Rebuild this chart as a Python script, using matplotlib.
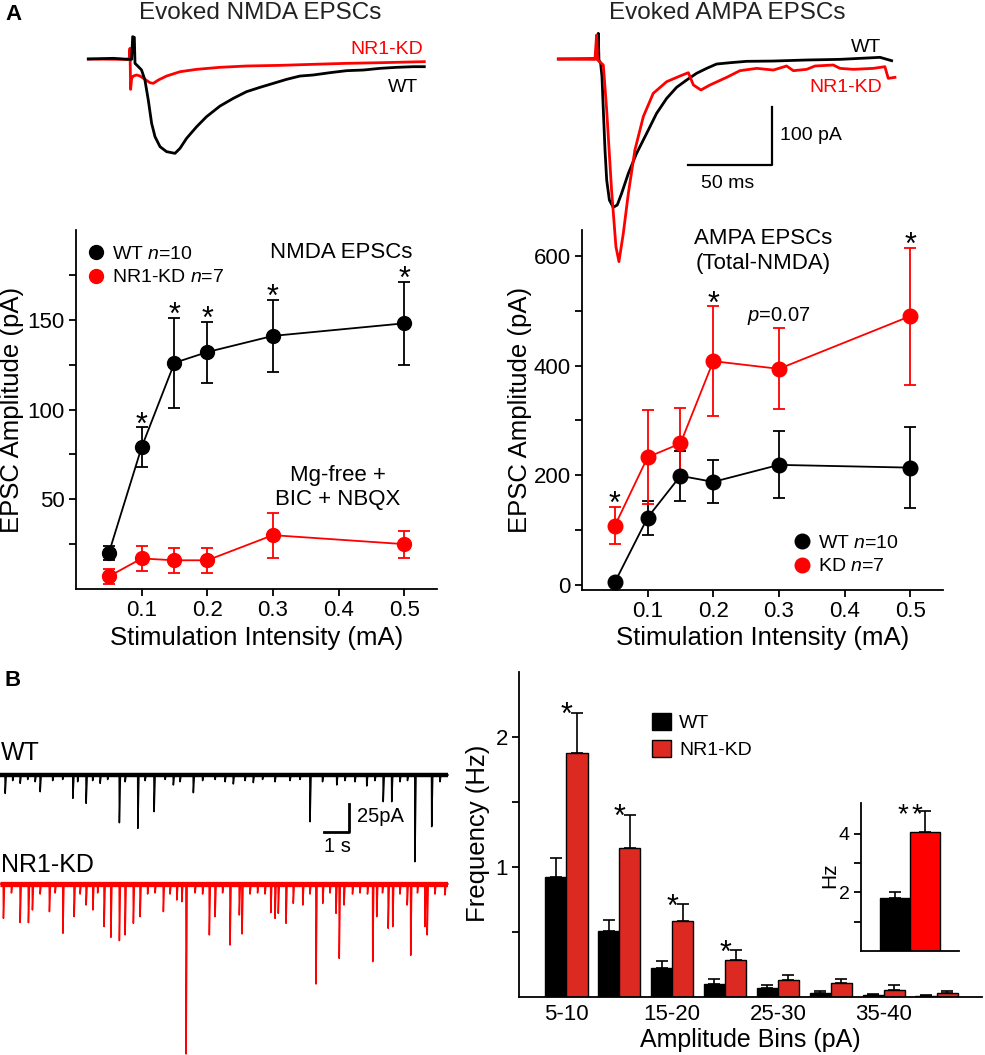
import matplotlib
matplotlib.use('Agg')
import matplotlib.pyplot as plt
from matplotlib.lines import Line2D
from matplotlib.patches import Patch
import numpy as np

plt.rcParams['font.family'] = ['Liberation Sans', 'DejaVu Sans']
plt.rcParams['mathtext.fontset'] = 'custom'
plt.rcParams['mathtext.it'] = 'Liberation Sans:italic'
plt.rcParams['mathtext.rm'] = 'Liberation Sans'

W, H = 985, 1055
RED = '#ff0000'
BARRED = '#dc2a22'

# ---------------- data ----------------
stim = [0.05, 0.1, 0.15, 0.2, 0.3, 0.5]
nmda_wt = [20, 79, 126, 132, 141, 148]
nmda_wt_err = [4, 11, 25, 17, 20, 23]
nmda_kd = [7, 17, 16, 16, 30, 25]
nmda_kd_err = [4, 7, 7, 7, 12.5, 7.5]
nmda_sig = [False, True, True, True, True, True]

ampa_wt = [5, 123, 199, 188, 219, 214]
ampa_wt_err = [0, 31, 45, 39, 61, 74]
ampa_kd = [108, 233, 258, 408, 394, 490]
ampa_kd_err = [34, 86, 65, 100, 74, 125]
ampa_sig = [True, False, False, True, False, True]

bins = ['5-10', '10-15', '15-20', '20-25', '25-30', '30-35', '35-40', '40-45']
bin_labels = ['5-10', '', '15-20', '', '25-30', '', '35-40', '']
freq_wt = [0.923, 0.508, 0.226, 0.103, 0.069, 0.033, 0.015, 0.008]
freq_wt_err = [0.146, 0.082, 0.049, 0.038, 0.026, 0.013, 0.005, 0.005]
freq_kd = [1.877, 1.146, 0.585, 0.287, 0.128, 0.108, 0.056, 0.033]
freq_kd_err = [0.308, 0.256, 0.128, 0.072, 0.038, 0.033, 0.034, 0.013]
freq_sig = [True, True, True, True, False, False, False, False]

total_hz = [1.82, 4.05]
total_hz_err = [0.2, 0.72]

# evoked traces (ms, pA)
nmda_t_wt = [0, 14.9, 23.8, 25.8, 26.4, 27.4, 27.8, 29.8, 31.7, 33.7, 35.7, 37.7, 39.7, 42.7,
             46.6, 51.6, 54.6, 58.5, 64.5, 70.4, 78.4, 86.3, 94.2, 102.2, 110.1, 118.1, 126,
             133.9, 143.8, 153.8, 163.7, 173.6, 183.5, 193.5, 200]
nmda_i_wt = [0, 1.2, -0.6, -0.6, 38.7, 37.5, -7.5, -13.3, -19, -36.4, -71, -111.5, -134.6, -152,
             -160.6, -163.5, -154.8, -137.5, -117.3, -99.9, -81.5, -68.2, -56.6, -49.1, -42.2,
             -35.2, -29.5, -27.7, -23.7, -20.2, -19.1, -16.2, -14.4, -13.3, -13.3]
nmda_t_kd = [0, 22.8, 24.4, 24.8, 25.2, 25.8, 26.8, 28.8, 30.8, 33.7, 36.7, 38.7, 41.7, 46.6,
             54.6, 64.5, 78.4, 94.2, 114.1, 133.9, 153.8, 173.6, 200]
nmda_i_kd = [0, -0.6, 1.2, 18.5, -52.6, -33.5, -29.5, -27.7, -29.5, -35.2, -41, -42.2, -36.4,
             -29.5, -22, -17.9, -14.4, -12.1, -11, -9.2, -7.5, -6.4, -4.6]

ampa_t_wt = [0, 20.8, 23.2, 23.8, 24.2, 25.2, 26, 26.8, 27.8, 28.8, 30.4, 32.7, 35.1, 37.7, 41.7,
             46.6, 52.6, 58.5, 64.5, 70.4, 76.4, 82.3, 88.3, 94.2, 102.2, 112.1, 128, 147.8,
             167.7, 191.5, 198.4]
ampa_i_wt = [0, 0.6, 0, 44.5, -1.7, -7.5, -30.6, -88.4, -157.7, -209.7, -244.4, -257.1, -253,
             -232.8, -198.2, -163.5, -128.8, -94.2, -68.2, -49.1, -36.4, -24.8, -16.2, -8.7,
             -6.4, -4, -3.5, -1.7, -0.6, 2.9, -2.9]
ampa_t_kd = [0, 21.8, 22.8, 23.4, 26.8, 28.8, 31.7, 34.3, 36.1, 38.7, 41.7, 45.6, 50.6, 56.5,
             64.5, 72.4, 77.4, 78.4, 80.4, 84.9, 90.3, 100.2, 108.1, 118.1, 128, 135.9, 139.9,
             147.8, 152.8, 163.7, 167.7, 175.6, 187.5, 194.4, 196.4, 200.4]
ampa_i_kd = [0, -0.6, 41.6, -1.7, -10.4, -88.4, -227, -325.2, -351.2, -302.1, -232.8, -157.7,
             -99.9, -59.5, -39.3, -29.5, -23.7, -30.6, -45, -53.7, -45, -31.8, -20.2, -16.2,
             -19.1, -12.1, -20.2, -17.9, -12.1, -10.4, -16.2, -17.9, -16.2, -13.3, -33.5, -31.8]

# spontaneous events (s, pA)
trace_len = 17.93
wt_ev_t = [0.2, 0.5, 0.8, 1.1, 1.4, 1.6, 2.1, 2.5, 2.91, 3.1, 3.44, 3.7, 4.0, 4.3, 4.77, 5.0,
           5.51, 5.8, 6.16, 6.6, 6.93, 7.2, 7.73, 8.1, 8.6, 9.0, 9.33, 9.8, 10.13, 10.5, 11.0,
           11.6, 12.0, 12.4, 12.9, 13.47, 13.8, 14.2, 14.67, 15.0, 15.33, 15.67, 16.0, 16.3,
           16.6, 17.27, 17.6]
wt_ev_a = [16.4, 5, 7.4, 4, 6, 14.9, 5, 4, 20.8, 6, 25.3, 5, 7.4, 4, 42.6, 6,
           47.6, 5, 32.7, 4, 8.9, 6, 15.8, 5, 4, 6, 8, 5, 6.8, 4, 6,
           5, 4, 41.7, 6, 8.9, 5, 6, 9.8, 5, 23.8, 23.8, 6, 5,
           77.4, 46.1, 6]
kd_ev_t = [0.13, 0.45, 0.8, 1.13, 1.29, 1.6, 1.97, 2.2, 2.51, 2.96, 3.2, 3.44, 3.71, 3.9, 4.16,
           4.43, 4.77, 5.0, 5.33, 5.6, 5.9, 6.2, 6.53, 6.8, 7.07, 7.27, 7.44, 7.8, 8.1, 8.37, 8.6,
           8.9, 9.2, 9.57, 9.68, 10.0, 10.3, 10.6, 10.83, 11.0, 11.13, 11.44, 11.73, 12.11, 12.4,
           12.64, 12.91, 13.2, 13.44, 13.57, 13.76, 14.1, 14.4, 14.7, 14.91, 15.07, 15.3, 15.53,
           15.71, 16.0, 16.29, 16.43, 16.7, 17.0, 17.09, 17.4, 17.8]
kd_ev_a = [30.7, 8, 34.5, 34.5, 23.2, 9, 24.7, 8, 44, 29.2, 9, 18.8, 23.2, 8, 38.1,
           47.6, 50.6, 45.5, 35.1, 29.2, 9, 8, 24.7, 9, 14.3, 15.8, 151.8, 8, 9, 45.5, 29.2,
           8, 54.5, 27.7, 44.6, 9, 8, 9, 25.6, 30.7, 26.2, 35.1, 17.3, 18.8, 9,
           89.3, 17.3, 8, 26.2, 66.4, 18.8, 9, 8, 9, 69.3, 29.2, 8, 39.6,
           38.1, 9, 18.8, 63.7, 8, 38.1, 45.5, 9, 9.8]
kd_offset = -97.3

# ---------------- helpers ----------------
fig = plt.figure(figsize=(W / 100, H / 100), dpi=100)


def rect(l, t, r, b):
    return [l / W, 1 - b / H, (r - l) / W, (b - t) / H]


def ftext(x, y, s, **kw):
    fig.text(x / W, 1 - y / H, s, **kw)


def style(ax):
    for s in ['top', 'right']:
        ax.spines[s].set_visible(False)
    for s in ['left', 'bottom']:
        ax.spines[s].set_linewidth(1.3)
    ax.tick_params(direction='out', length=5, width=1.3, labelsize=16, pad=3)


def star(ax, x, y, size=22, dy=-4.5, dx=0):
    ax.annotate('*', (x, y), xytext=(dx, dy), textcoords='offset points',
                ha='center', va='baseline', fontsize=size)


# ---------------- NMDA panel ----------------
ax1 = fig.add_axes(rect(76, 230, 437, 589))
style(ax1)
ax1.errorbar(stim, nmda_kd, yerr=nmda_kd_err, color=RED, marker='o', ms=10, lw=1.3,
             elinewidth=1.3, capsize=4.5, capthick=1.3)
ax1.errorbar(stim, nmda_wt, yerr=nmda_wt_err, color='black', marker='o', ms=10, lw=1.3,
             elinewidth=1.3, capsize=4.5, capthick=1.3)
for x, v, e, s in zip(stim, nmda_wt, nmda_wt_err, nmda_sig):
    if s:
        star(ax1, x, v + e)
ax1.set_xlim(0, 0.55)
ax1.set_ylim(0, 200)
ax1.set_xticks([0.1, 0.2, 0.3, 0.4, 0.5])
ax1.set_xticklabels(['0.1', '0.2', '0.3', '0.4', '0.5'])
ax1.set_yticks([25, 50, 75, 100, 125, 150, 175])
ax1.set_yticklabels(['', '50', '', '100', '', '150', ''])
ax1.set_xlabel('Stimulation Intensity (mA)', fontsize=18.5, va='center')
ax1.set_ylabel('EPSC Amplitude (pA)', fontsize=18.5, va='center')
ax1.xaxis.set_label_coords(0.5, -0.1365)
ax1.yaxis.set_label_coords(-0.177, 0.5)
h1 = [Line2D([], [], marker='o', color='black', ls='none', ms=10),
      Line2D([], [], marker='o', color=RED, ls='none', ms=10)]
ax1.legend(h1, ['WT $n$=10', 'NR1-KD $n$=7'], loc='upper left', bbox_to_anchor=(0.028, 0.957),
           frameon=False, handlelength=1.0, handletextpad=0.35, labelspacing=0.3,
           borderpad=0, borderaxespad=0, fontsize=14)
ftext(412, 252, 'NMDA EPSCs', ha='right', va='center', fontsize=16)
ftext(338, 475, 'Mg-free +', ha='center', va='center', fontsize=16)
ftext(338, 499, 'BIC + NBQX', ha='center', va='center', fontsize=16)

# ---------------- AMPA panel ----------------
ax2 = fig.add_axes(rect(582, 230, 943, 590))
style(ax2)
ax2.errorbar(stim, ampa_wt, yerr=ampa_wt_err, color='black', marker='o', ms=10.5, lw=1.3,
             elinewidth=1.3, capsize=4.5, capthick=1.3)
ax2.errorbar(stim, ampa_kd, yerr=ampa_kd_err, color=RED, marker='o', ms=10.5, lw=1.3,
             elinewidth=1.3, capsize=4.5, capthick=1.3)
for x, v, e, s in zip(stim, ampa_kd, ampa_kd_err, ampa_sig):
    if s:
        star(ax2, x, v + e)
ax2.set_xlim(0, 0.55)
ax2.set_ylim(-9, 647)
ax2.set_xticks([0.1, 0.2, 0.3, 0.4, 0.5])
ax2.set_xticklabels(['0.1', '0.2', '0.3', '0.4', '0.5'])
ax2.set_yticks([0, 100, 200, 300, 400, 500, 600])
ax2.set_yticklabels(['0', '', '200', '', '400', '', '600'])
ax2.set_xlabel('Stimulation Intensity (mA)', fontsize=18.5, va='center')
ax2.set_ylabel('EPSC Amplitude (pA)', fontsize=18.5, va='center')
ax2.xaxis.set_label_coords(0.5, -0.133)
ax2.yaxis.set_label_coords(-0.172, 0.5)
h2 = [Line2D([], [], marker='o', color='black', ls='none', ms=10.5),
      Line2D([], [], marker='o', color=RED, ls='none', ms=10.5)]
ax2.legend(h2, ['WT $n$=10', 'KD $n$=7'], loc='upper left', bbox_to_anchor=(0.5826, 0.1547),
           frameon=False, handlelength=1.0, handletextpad=0.3, labelspacing=0.3,
           borderpad=0, borderaxespad=0, fontsize=14)
ftext(763, 238, 'AMPA EPSCs', ha='center', va='center', fontsize=16)
ftext(763, 263, '(Total-NMDA)', ha='center', va='center', fontsize=16)
ftext(779, 316, '$p$=0.07', ha='center', va='center', fontsize=14.5)

# ---------------- evoked traces ----------------
axt1 = fig.add_axes(rect(88.3, 24.4, 424.3, 174.4))
axt1.set_xlim(0, 200)
axt1.set_ylim(-200, 60)
axt1.axis('off')
axt1.plot(nmda_t_kd, nmda_i_kd, color=RED, lw=2, clip_on=False)
axt1.plot(nmda_t_wt, nmda_i_wt, color='black', lw=2, clip_on=False)

axt2 = fig.add_axes(rect(558.3, 24.4, 894.3, 289.8))
axt2.set_xlim(0, 200)
axt2.set_ylim(-400, 60)
axt2.axis('off')
axt2.plot(ampa_t_wt, ampa_i_wt, color='black', lw=2, clip_on=False)
axt2.plot(ampa_t_kd, ampa_i_kd, color=RED, lw=2, clip_on=False)
axt2.plot([77, 127, 127], [-184, -184, -84], color='black', lw=1.6, clip_on=False)

ftext(260, 13, 'Evoked NMDA EPSCs', ha='center', va='center', fontsize=17.5, color='#222222')
ftext(727, 13, 'Evoked AMPA EPSCs', ha='center', va='center', fontsize=17.5, color='#222222')
ftext(423, 49, 'NR1-KD', ha='right', va='center', fontsize=14, color=RED)
ftext(418, 88, 'WT', ha='right', va='center', fontsize=14)
ftext(881, 47, 'WT', ha='right', va='center', fontsize=14)
ftext(882, 87, 'NR1-KD', ha='right', va='center', fontsize=14, color=RED)
ftext(780, 135, '100 pA', ha='left', va='center', fontsize=14)
ftext(728, 183, '50 ms', ha='center', va='center', fontsize=14)

ftext(13, 15, 'A', ha='center', va='center', fontsize=16, fontweight='bold')
ftext(13, 680, 'B', ha='center', va='center', fontsize=16, fontweight='bold')

# ---------------- spontaneous traces ----------------
axs = fig.add_axes(rect(0, 740, 448, 1055))
axs.set_xlim(0, trace_len)
axs.set_ylim(-250, 31.25)
axs.axis('off')


def event_trace(ts, amps, off):
    xs, ys = [0], [off]
    for t, a in sorted(zip(ts, amps)):
        xs += [t, t + 0.008, t + 0.05]
        ys += [off, off - a, off]
    xs.append(trace_len)
    ys.append(off)
    return xs, ys


axs.plot([0, trace_len], [0, 0], color='black', lw=3.2, solid_capstyle='butt')
xw, yw = event_trace(wt_ev_t, wt_ev_a, 0)
axs.plot(xw, yw, color='black', lw=1.1, clip_on=False)
axs.plot([0, trace_len], [kd_offset, kd_offset], color=RED, lw=3.8, solid_capstyle='butt')
xk, yk = event_trace(kd_ev_t, kd_ev_a, kd_offset)
axs.plot(xk, yk, color=RED, lw=1.1, clip_on=False)
axs.plot([12.96, 13.96, 13.96], [-50.9, -50.9, -25.9], color='black', lw=2)
ftext(357, 817, '25pA', ha='left', va='center', fontsize=14.5)
ftext(337, 847, '1 s', ha='center', va='center', fontsize=14.5)
ftext(1, 753, 'WT', ha='left', va='center', fontsize=18)
ftext(1, 865, 'NR1-KD', ha='left', va='center', fontsize=18)

# ---------------- amplitude histogram ----------------
ax3 = fig.add_axes(rect(519, 672, 982, 997))
style(ax3)
xb = np.arange(len(bins))
ax3.bar(xb - 0.2, freq_wt, 0.4, color='black', edgecolor='black', lw=1, zorder=2)
ax3.bar(xb + 0.2, freq_kd, 0.4, color=BARRED, edgecolor='black', lw=1, zorder=2)
ax3.errorbar(xb - 0.2, freq_wt, yerr=[np.zeros(len(bins)), freq_wt_err], fmt='none',
             ecolor='black', elinewidth=1.2, capsize=4.2, capthick=1.2, zorder=1)
ax3.errorbar(xb + 0.2, freq_kd, yerr=[np.zeros(len(bins)), freq_kd_err], fmt='none',
             ecolor='black', elinewidth=1.2, capsize=4.2, capthick=1.2, zorder=1)
for x, v, e, s in zip(xb, freq_kd, freq_kd_err, freq_sig):
    if s:
        star(ax3, x, v + e, size=22, dy=-8)
ax3.set_xlim(-0.897, 7.86)
ax3.set_ylim(0, 2.5)
ax3.set_xticks(xb)
ax3.set_xticklabels(bin_labels)
ax3.tick_params(axis='x', length=0, pad=5)
ax3.set_yticks([0.5, 1, 1.5, 2])
ax3.set_yticklabels(['', '1', '', '2'])
ax3.set_xlabel('Amplitude Bins (pA)', fontsize=18, va='center')
ax3.set_ylabel('Frequency (Hz)', fontsize=18.5, va='center')
ax3.xaxis.set_label_coords(0.5, -0.132)
ax3.yaxis.set_label_coords(-0.088, 0.505)
h3 = [Patch(facecolor='black', edgecolor='black'), Patch(facecolor=BARRED, edgecolor='black')]
ax3.legend(h3, ['WT', 'NR1-KD'], loc='upper left', bbox_to_anchor=(0.2866, 0.8748),
           frameon=False, handlelength=0.98, handleheight=1.0, handletextpad=0.43,
           labelspacing=0.4, borderpad=0, borderaxespad=0, fontsize=14)

# inset
ax4 = fig.add_axes(rect(861, 803, 959, 951))
style(ax4)
ax4.tick_params(labelsize=14)
ax4.bar([0, 1], total_hz, 1.0, color=['black', RED], edgecolor='black', lw=1, zorder=2)
ax4.errorbar([0, 1], total_hz, yerr=[[0, 0], total_hz_err], fmt='none', ecolor='black',
             elinewidth=1.2, capsize=4.2, capthick=1.2, zorder=1)
for ddx in (-5, 5):
    star(ax4, 0.5, total_hz[1] + total_hz_err[1], size=20, dy=-8, dx=ddx)
ax4.set_xlim(-1.14, 2.12)
ax4.set_ylim(0, 5.05)
ax4.set_xticks([])
ax4.set_yticks([1, 2, 3, 4])
ax4.set_yticklabels(['', '2', '', '4'])
ax4.set_ylabel('Hz', fontsize=15, va='center')
ax4.yaxis.set_label_coords(-0.316, 0.509)

fig.savefig('out.png', dpi=100)
